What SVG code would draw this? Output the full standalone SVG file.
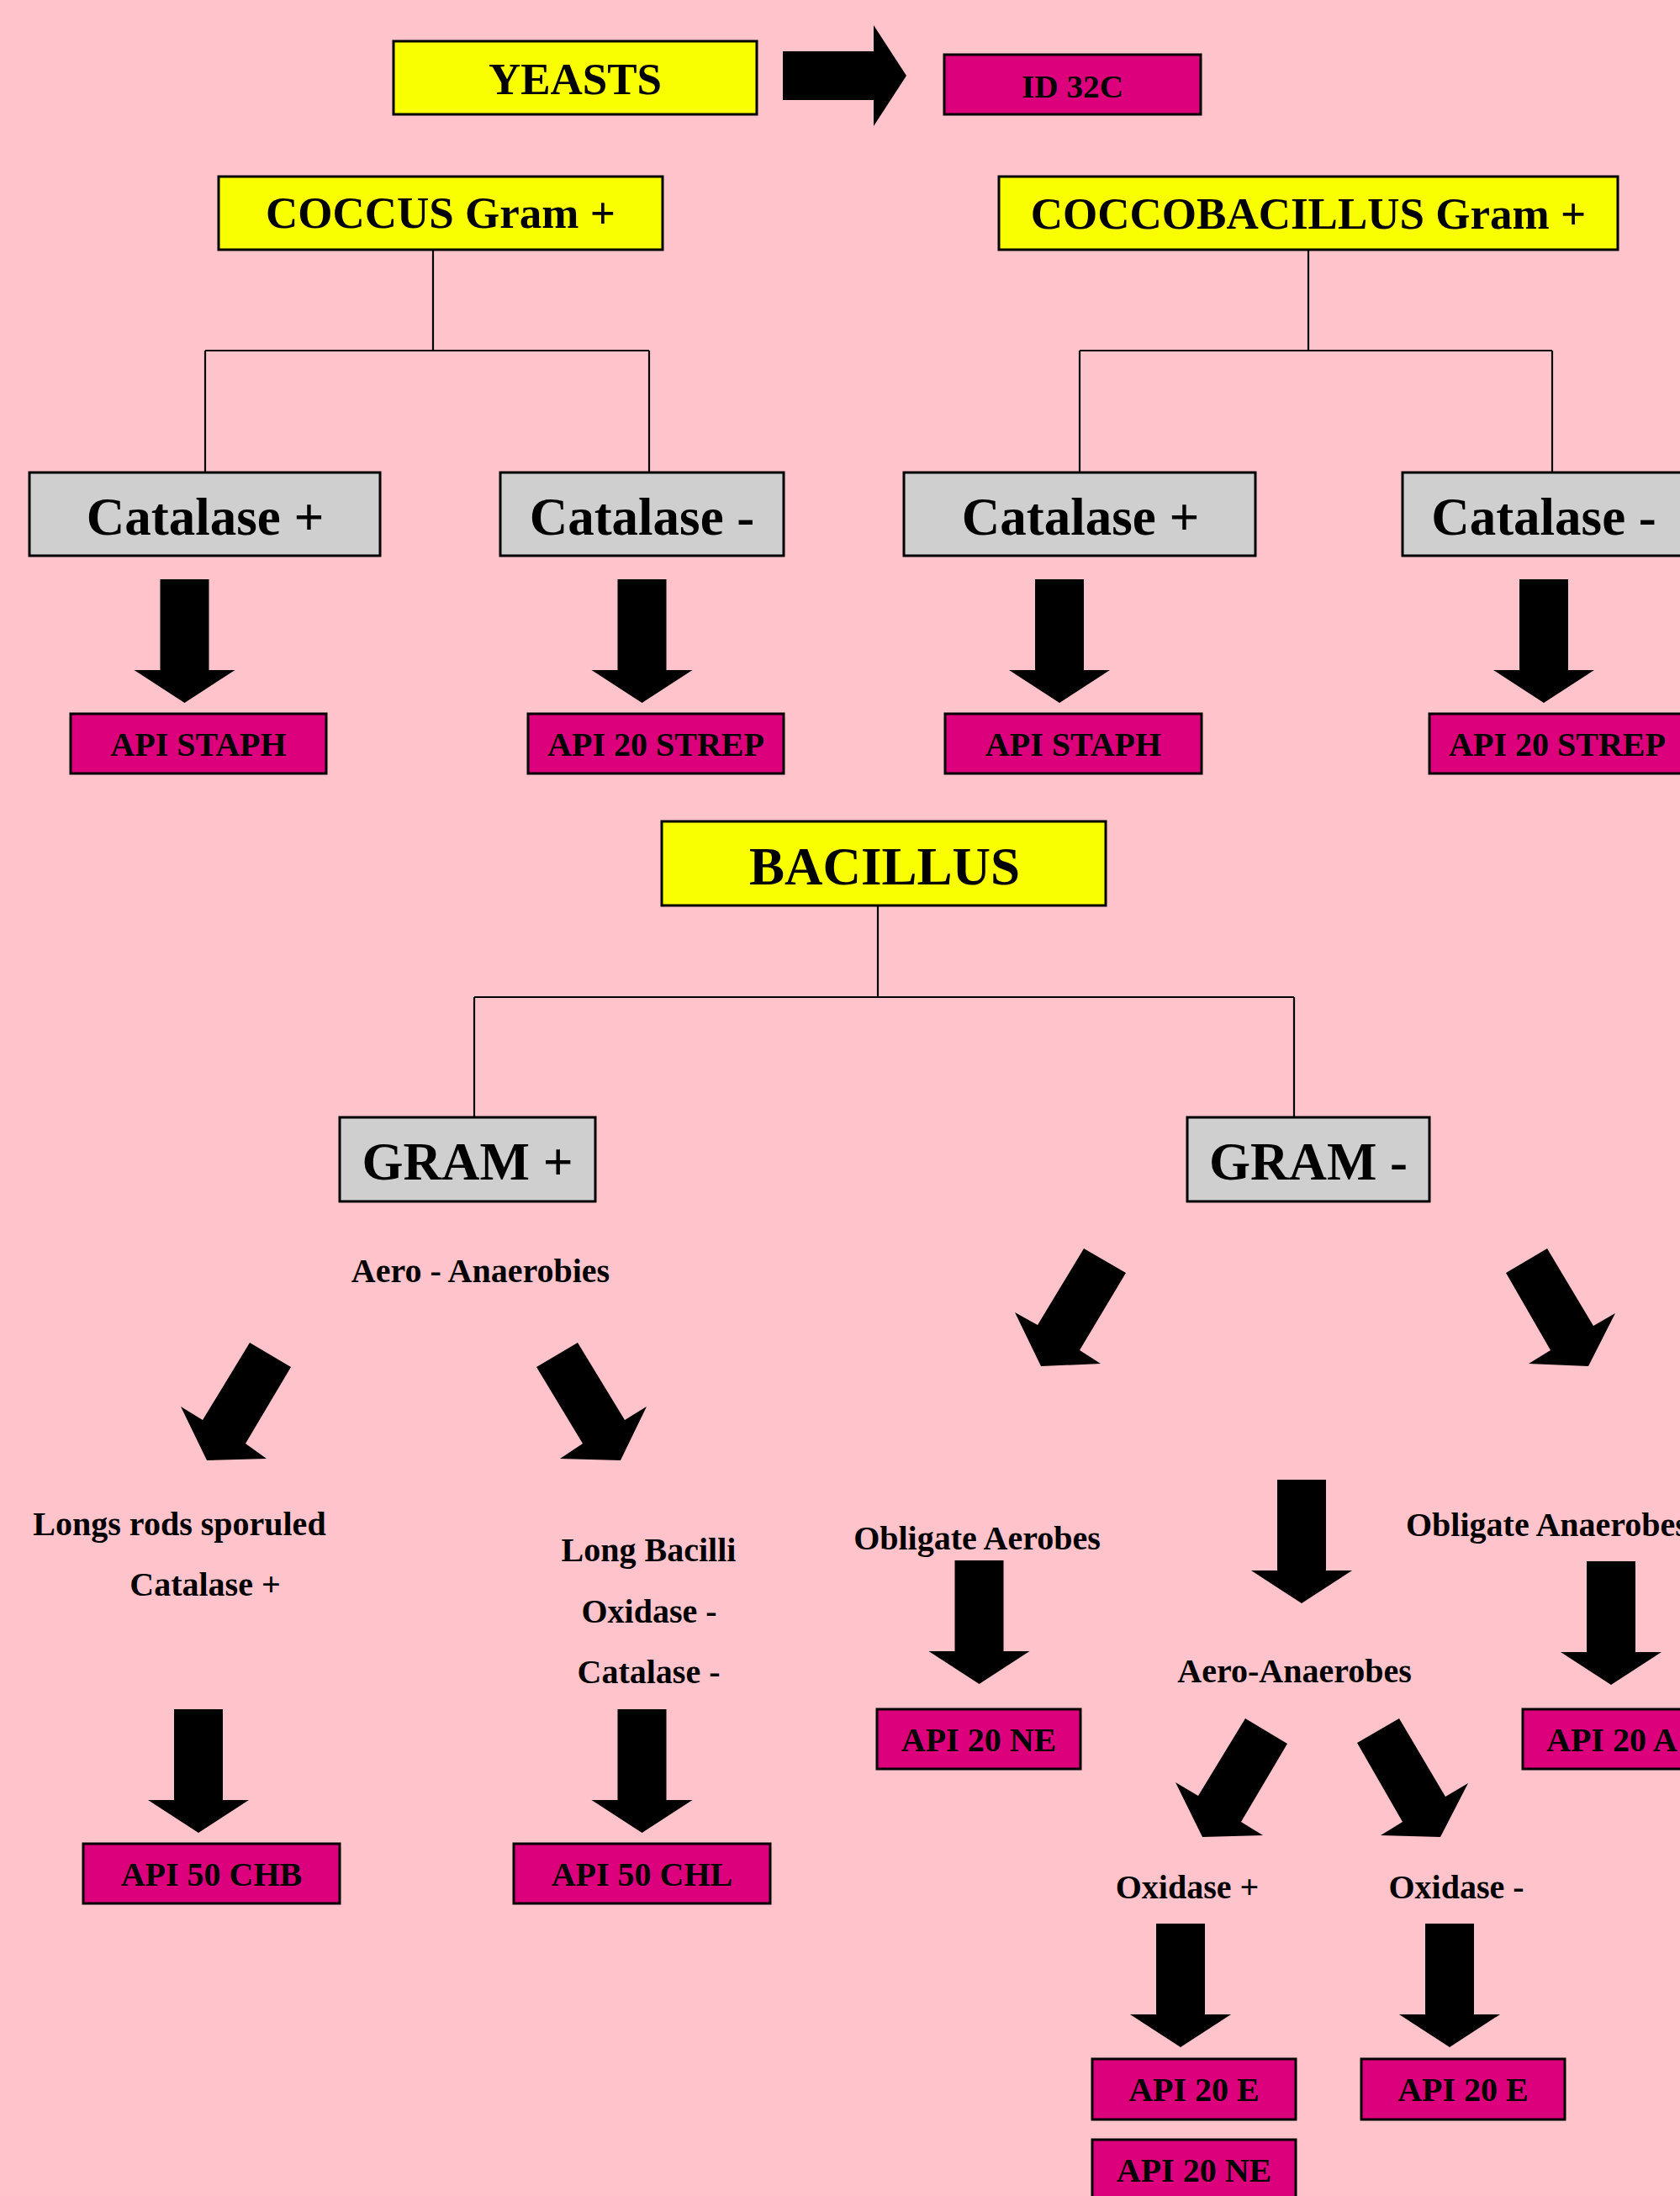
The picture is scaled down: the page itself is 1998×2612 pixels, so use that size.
<svg xmlns="http://www.w3.org/2000/svg" xmlns:xlink="http://www.w3.org/1999/xlink" width="1998" height="2612" viewBox="0 0 1998 2612">
<style>
.t{font-family:"Liberation Serif","Times New Roman",serif;font-weight:bold;fill:#000;text-anchor:middle}
.s40{font-size:40px}
.s53{font-size:53px}
.s63{font-size:63px}
.yel{fill:#FAFF00;stroke:#000;stroke-width:3}
.gry{fill:#CFCFCF;stroke:#000;stroke-width:3}
.mag{fill:#DC007D;stroke:#000;stroke-width:3}
.ln{fill:none;stroke:#000;stroke-width:2.2}
.ar{fill:#000}
</style>
<defs>
<path id="darr" d="M-29,0 H29 V108 H60 L0,147 L-60,108 H-29 Z"/>
</defs>
<rect x="0" y="0" width="1998" height="2612" fill="#FFC4CB"/>

<g id="connectors">
<path class="ln" d="M515,297 V417 M244,417 H772 M244,417 V562 M772,417 V562"/>
<path class="ln" d="M1556,297 V417 M1284,417 H1846 M1284,417 V562 M1846,417 V562"/>
<path class="ln" d="M1044,1077 V1186 M564,1186 H1539 M564,1186 V1329 M1539,1186 V1329"/>
<use class="ar" xlink:href="#darr" href="#darr" transform="translate(931,90) rotate(-90)"/>
<use class="ar" xlink:href="#darr" href="#darr" x="219.5" y="689"/>
<use class="ar" xlink:href="#darr" href="#darr" x="763.5" y="689"/>
<use class="ar" xlink:href="#darr" href="#darr" x="1260" y="689"/>
<use class="ar" xlink:href="#darr" href="#darr" x="1836" y="689"/>
<use class="ar" xlink:href="#darr" href="#darr" x="236" y="2033"/>
<use class="ar" xlink:href="#darr" href="#darr" x="763.5" y="2033"/>
<use class="ar" xlink:href="#darr" href="#darr" x="1164.5" y="1856"/>
<use class="ar" xlink:href="#darr" href="#darr" x="1548" y="1760"/>
<use class="ar" xlink:href="#darr" href="#darr" x="1916" y="1857"/>
<use class="ar" xlink:href="#darr" href="#darr" x="1404" y="2288"/>
<use class="ar" xlink:href="#darr" href="#darr" x="1724" y="2288"/>
<polygon class="ar" points="297,1597 346,1626 292,1717 317,1735 246,1737 215,1673 241,1689"/>
<polygon class="ar" points="687,1597 638,1626 693,1717 666,1735 738,1737 769,1673 743,1689"/>
<polygon class="ar" points="1289,1485 1339,1514 1284,1606 1309,1622 1238,1625 1207,1561 1234,1576"/>
<polygon class="ar" points="1840,1485 1791,1514 1844,1606 1818,1622 1889,1625 1921,1562 1895,1577"/>
<polygon class="ar" points="1481,2044 1531,2074 1476,2167 1502,2183 1430,2185 1398,2120 1425,2136"/>
<polygon class="ar" points="1664,2044 1614,2073 1668,2167 1642,2183 1713,2185 1746,2121 1719,2137"/>
</g>

<g id="yeasts"><rect class="yel" x="468" y="49" width="432" height="87"/><text class="t s53" x="684" y="112">YEASTS</text></g>
<g id="id32c"><rect class="mag" x="1123" y="65" width="305" height="71"/><text class="t" x="1275.5" y="116" font-size="37" textLength="121" lengthAdjust="spacingAndGlyphs">ID 32C</text></g>

<g id="coccus"><rect class="yel" x="260" y="210" width="528" height="87"/><text class="t s53" x="524" y="271">COCCUS Gram +</text></g>
<g id="coccobacillus"><rect class="yel" x="1188" y="210" width="736" height="87"/><text class="t s53" x="1556" y="272">COCCOBACILLUS Gram +</text></g>

<g id="cat-plus-1"><rect class="gry" x="35" y="562" width="417" height="99"/><text class="t s63" x="244" y="636">Catalase +</text></g>
<g id="cat-minus-1"><rect class="gry" x="595" y="562" width="337" height="99"/><text class="t s63" x="763.5" y="636">Catalase -</text></g>
<g id="cat-plus-2"><rect class="gry" x="1075" y="562" width="418" height="99"/><text class="t s63" x="1285" y="636">Catalase +</text></g>
<g id="cat-minus-2"><rect class="gry" x="1668" y="562" width="337" height="99"/><text class="t s63" x="1836" y="636">Catalase -</text></g>

<g id="api-staph-1"><rect class="mag" x="84" y="849" width="304" height="71"/><text class="t s40" x="236" y="899">API STAPH</text></g>
<g id="api-strep-1"><rect class="mag" x="628" y="849" width="304" height="71"/><text class="t s40" x="780" y="899">API 20 STREP</text></g>
<g id="api-staph-2"><rect class="mag" x="1124" y="849" width="305" height="71"/><text class="t s40" x="1276.5" y="899">API STAPH</text></g>
<g id="api-strep-2"><rect class="mag" x="1700" y="849" width="304" height="71"/><text class="t s40" x="1852" y="899">API 20 STREP</text></g>

<g id="bacillus"><rect class="yel" x="787" y="977" width="528" height="100"/><text class="t s63" x="1052" y="1052">BACILLUS</text></g>
<g id="gram-plus"><rect class="gry" x="404" y="1329" width="304" height="100"/><text class="t s63" x="556" y="1403">GRAM +</text></g>
<g id="gram-minus"><rect class="gry" x="1412" y="1329" width="288" height="100"/><text class="t s63" x="1556" y="1403">GRAM -</text></g>

<g id="aero-anaerobies"><text class="t s40" x="571.5" y="1525">Aero - Anaerobies</text></g>
<g id="longs-rods"><text class="t s40" x="213.5" y="1826">Longs rods sporuled</text><text class="t s40" x="244" y="1898">Catalase +</text></g>
<g id="long-bacilli"><text class="t s40" x="771.5" y="1857">Long Bacilli</text><text class="t s40" x="772" y="1930">Oxidase -</text><text class="t s40" x="771.5" y="2002">Catalase -</text></g>
<g id="api-50-chb"><rect class="mag" x="99" y="2193" width="305" height="71"/><text class="t s40" x="251.5" y="2243">API 50 CHB</text></g>
<g id="api-50-chl"><rect class="mag" x="611" y="2193" width="305" height="71"/><text class="t s40" x="763.5" y="2243">API 50 CHL</text></g>

<g id="obligate-aerobes"><text class="t s40" x="1162" y="1843">Obligate Aerobes</text></g>
<g id="obligate-anaerobes"><text class="t s40" x="1672" y="1827" style="text-anchor:start">Obligate Anaerobes</text></g>
<g id="aero-anaerobes"><text class="t s40" x="1539.5" y="2001">Aero-Anaerobes</text></g>
<g id="api-20-ne-1"><rect class="mag" x="1043" y="2033" width="242" height="71"/><text class="t s40" x="1164" y="2083">API 20 NE</text></g>
<g id="api-20-a"><rect class="mag" x="1811" y="2033" width="242" height="71"/><text class="t s40" x="1839" y="2083" style="text-anchor:start">API 20 A</text></g>
<g id="oxidase-plus"><text class="t s40" x="1412" y="2258">Oxidase +</text></g>
<g id="oxidase-minus"><text class="t s40" x="1732" y="2258">Oxidase -</text></g>
<g id="api-20-e-1"><rect class="mag" x="1299" y="2449" width="242" height="72"/><text class="t s40" x="1420" y="2499">API 20 E</text></g>
<g id="api-20-e-2"><rect class="mag" x="1619" y="2449" width="242" height="72"/><text class="t s40" x="1740" y="2499">API 20 E</text></g>
<g id="api-20-ne-2"><rect class="mag" x="1299" y="2545" width="242" height="72"/><text class="t s40" x="1420" y="2595">API 20 NE</text></g>
</svg>
